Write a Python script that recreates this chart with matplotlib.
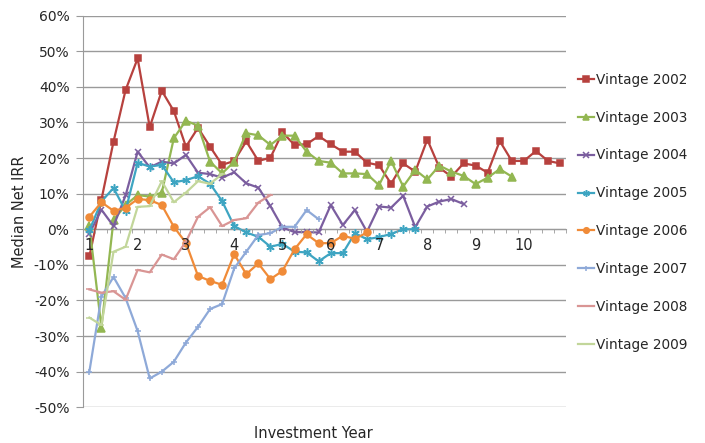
import numpy as np
import matplotlib
matplotlib.use('Agg')
import matplotlib.pyplot as plt
from matplotlib.ticker import FuncFormatter

# Datos (IRR neto mediano, %), un punto por trimestre
anios = [str(a) for a in range(1, 11)]

v2002 = [-7.6, 8.3, 24.6, 39.1, 48.0, 28.7, 38.9, 33.2, 23.2, 28.5, 23.2, 18.1, 19.2, 24.7,
         19.2, 20.1, 27.2, 23.7, 23.9, 26.2, 23.9, 21.8, 21.8, 18.7, 18.0, 12.8, 18.5, 16.2,
         25.2, 17.3, 14.8, 18.5, 17.9, 15.9, 24.8, 19.2, 19.2, 22.0, 19.2, 18.5]
v2003 = [1.0, -27.6, 2.6, 6.8, 9.6, 9.2, 10.3, 25.6, 30.5, 29.1, 19.0, 15.7, 19.0, 27.0,
         26.4, 23.7, 26.3, 26.3, 21.8, 19.2, 18.7, 15.7, 15.7, 15.5, 12.4, 19.2, 12.0, 16.7,
         14.0, 17.9, 16.2, 15.0, 12.7, 14.5, 16.9, 14.8]
v2004 = [-1.2, 5.5, 0.9, 9.5, 21.8, 17.4, 19.0, 18.5, 20.9, 15.9, 15.5, 14.5, 16.0, 12.9,
         11.7, 6.5, 0.5, -0.8, -0.8, -0.9, 6.8, 1.2, 5.4, -0.7, 6.4, 6.1, 9.4, 0.6, 6.4, 7.8,
         8.5, 7.1]
v2005 = [-0.3, 7.8, 11.6, 5.2, 18.7, 17.6, 18.1, 13.2, 13.8, 14.9, 12.8, 7.9, 0.9, -0.9,
         -2.1, -4.9, -4.1, -6.3, -6.5, -9.0, -6.7, -6.7, -1.1, -2.8, -2.2, -1.3, 0.0, 0.0]
v2006 = [3.5, 7.6, 5.2, 6.0, 8.5, 8.2, 6.8, 0.7, -3.8, -13.1, -14.5, -15.6, -7.0, -12.6,
         -9.6, -14.0, -11.7, -5.6, -1.4, -3.9, -3.9, -1.8, -2.7, -0.9]
v2007 = [-40.0, -18.9, -13.4, -19.3, -28.6, -41.9, -40.0, -37.2, -31.8, -27.4, -22.4, -21.0,
         -11.0, -6.3, -1.6, -1.1, 0.7, 0.7, 5.4, 2.8]
v2008 = [-16.9, -17.8, -17.4, -19.8, -11.4, -12.1, -7.1, -8.4, -3.5, 3.5, 6.2, 0.9, 2.6, 3.1,
         7.5, 9.6]
v2009 = [-24.8, -26.9, -6.3, -4.9, 6.3, 6.5, 13.5, 7.6, 10.3, 13.5, 12.8, 15.5]

series = [
    ('Vintage 2002', v2002, '#B7413E', 's', 5),
    ('Vintage 2003', v2003, '#93B752', '^', 5.5),
    ('Vintage 2004', v2004, '#7B5E9F', 'x', 5),
    ('Vintage 2005', v2005, '#3EA5C2', (6, 2, 0), 6),
    ('Vintage 2006', v2006, '#F08B38', 'o', 5),
    ('Vintage 2007', v2007, '#8EA9D8', '+', 4.5),
    ('Vintage 2008', v2008, '#D99594', '_', 4),
    ('Vintage 2009', v2009, '#C2D69A', '_', 4),
]

gris = '#9A9A9A'
texto = '#262626'

fig = plt.figure(figsize=(7.05, 4.43), dpi=100)
ax = fig.add_axes([0.1182, 0.0806, 0.6848, 0.884])

for nombre, valores, color, marcador, tam in series:
    x = np.arange(len(valores))
    ax.plot(x, valores, color=color, lw=1.6, marker=marcador, markersize=tam,
            markeredgewidth=1.1, markerfacecolor=color, markeredgecolor=color,
            label=nombre, zorder=2)

# Eje Y (líneas de cuadrícula debajo de las series, etiquetas encima)
ax.set_ylim(-50, 60)
marcas_y = np.arange(-50, 61, 10)
ax.set_yticks(marcas_y)
ax.yaxis.set_major_formatter(FuncFormatter(lambda v, p: f'{int(round(v))}%'))
for yv in marcas_y:
    ax.axhline(yv, color=gris, lw=1.0, zorder=0.5)
ax.set_axisbelow(False)

# Eje X (categorías trimestrales, etiqueta cada año)
ax.set_xlim(-0.5, 39.5)
ax.set_xticks(np.arange(0, 40, 4))
ax.set_xticklabels(anios)
ax.set_xticks(np.arange(-0.5, 40, 1), minor=True)
ax.spines['bottom'].set_position(('data', 0))
ax.spines['bottom'].set_color(gris)
ax.spines['bottom'].set_zorder(0.6)
ax.spines['left'].set_color(gris)
ax.spines['top'].set_visible(False)
ax.spines['right'].set_visible(False)
ax.tick_params(axis='x', which='major', length=0, pad=6, labelsize=10.5, labelcolor=texto)
ax.tick_params(axis='x', which='minor', length=3, color=gris, direction='out')
ax.tick_params(axis='y', length=5, color=gris, pad=5, labelsize=10, labelcolor=texto)

ax.set_ylabel('Median Net IRR', fontsize=10.5, color=texto, labelpad=5)
fig.text(313 / 705, 1 - 433 / 443, 'Investment Year', fontsize=10.5, color=texto,
         ha='center', va='center')

fig.legend(loc='center left', bbox_to_anchor=(0.81, 0.521), frameon=False,
           fontsize=9.8, labelspacing=1.75, handlelength=1.2, handletextpad=0.1,
           borderpad=0, numpoints=1, markerscale=0.8, labelcolor=texto)

fig.savefig('out.png', dpi=100)
